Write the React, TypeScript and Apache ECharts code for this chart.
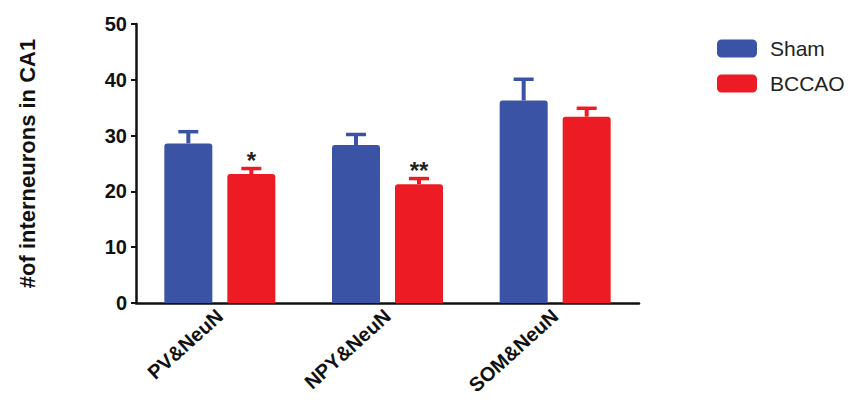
import React, { useEffect, useRef } from "react";
import * as echarts from "echarts";

const categories = ["PV&NeuN", "NPY&NeuN", "SOM&NeuN"];
const shamValues = [28.6, 28.3, 36.3];
const shamErrors = [2.1, 1.9, 3.8];
const bccaoValues = [23.1, 21.3, 33.4];
const bccaoErrors = [1.0, 1.0, 1.5];
const significance = ["*", "**", ""];
const yTicks = [0, 10, 20, 30, 40, 50];

const BLUE = "#3A53A4";
const RED = "#ED1C24";
const BAR_W = 48;
const GAP = 15;
const FONT = "Arial, 'Liberation Sans', sans-serif";

function errorSeries(name: string, values: number[], errors: number[], color: string, side: number, marks?: string[]) {
  return {
    type: "custom",
    name: name + "-err",
    z: 5,
    silent: true,
    data: values.map((v, i) => [i, v, errors[i]]),
    renderItem: (params: any, api: any) => {
      const idx = api.value(0);
      const v = api.value(1);
      const e = api.value(2);
      const base = api.coord([idx, v]);
      const top = api.coord([idx, v + e]);
      const x = base[0] + side * (BAR_W / 2 + GAP / 2);
      const children: any[] = [
        { type: "line", shape: { x1: x, y1: base[1], x2: x, y2: top[1] }, style: { stroke: color, lineWidth: 4 } },
        { type: "line", shape: { x1: x - 10, y1: top[1], x2: x + 10, y2: top[1] }, style: { stroke: color, lineWidth: 3.5 } },
      ];
      if (marks && marks[params.dataIndex]) {
        children.push({
          type: "text",
          style: {
            text: marks[params.dataIndex],
            x: x,
            y: top[1] + 4,
            align: "center",
            verticalAlign: "bottom",
            fill: "#222",
            font: "bold 24px " + FONT,
          },
        });
      }
      return { type: "group", children };
    },
  };
}

export default function App() {
  const ref = useRef<HTMLDivElement>(null);
  useEffect(() => {
    if (!ref.current) return;
    const chart = echarts.init(ref.current, undefined, { renderer: "svg" });
    chart.setOption({
      animation: false,
      backgroundColor: "#ffffff",
      textStyle: { fontFamily: FONT },
      legend: {
        data: ["Sham", "BCCAO"],
        orient: "vertical",
        left: 712,
        top: 33,
        itemWidth: 40,
        itemHeight: 18,
        itemGap: 14,
        icon: "roundRect",
        textStyle: { fontSize: 21, color: "#222", padding: [0, 0, 0, 8], fontFamily: FONT },
      },
      grid: { left: 136, right: 228, top: 24, bottom: 102, containLabel: false },
      xAxis: {
        type: "category",
        data: categories,
        axisLine: { lineStyle: { color: "#111", width: 2.5 } },
        axisTick: { alignWithLabel: true, length: 6, lineStyle: { color: "#111", width: 2.5 } },
        axisLabel: {
          rotate: 42,
          margin: 10,
          color: "#111",
          fontSize: 20,
          fontWeight: "bold",
          fontFamily: FONT,
        },
      },
      yAxis: {
        type: "value",
        min: yTicks[0],
        max: yTicks[yTicks.length - 1],
        interval: 10,
        name: "#of interneurons in CA1",
        nameLocation: "middle",
        nameGap: 98,
        nameRotate: 90,
        nameTextStyle: { fontSize: 22, fontWeight: "bold", color: "#111", fontFamily: FONT },
        axisLine: { show: true, lineStyle: { color: "#111", width: 2.5 } },
        axisTick: { show: true, length: 5, lineStyle: { color: "#111", width: 2 } },
        splitLine: { show: false },
        axisLabel: {
          color: "#111",
          fontSize: 20,
          fontWeight: "bold",
          margin: 9,
          fontFamily: FONT,
        },
      },
      series: [
        {
          name: "Sham",
          type: "bar",
          data: shamValues,
          barWidth: BAR_W,
          barGap: (GAP / BAR_W) * 100 + "%",
          itemStyle: { color: BLUE, borderRadius: [3, 3, 0, 0] },
        },
        {
          name: "BCCAO",
          type: "bar",
          data: bccaoValues,
          barWidth: BAR_W,
          itemStyle: { color: RED, borderRadius: [3, 3, 0, 0] },
        },
        errorSeries("Sham", shamValues, shamErrors, BLUE, -1),
        errorSeries("BCCAO", bccaoValues, bccaoErrors, RED, 1, significance),
      ],
    });
    return () => chart.dispose();
  }, []);
  return <div ref={ref} style={{ width: 867, height: 405, margin: -8 }} />;
}
